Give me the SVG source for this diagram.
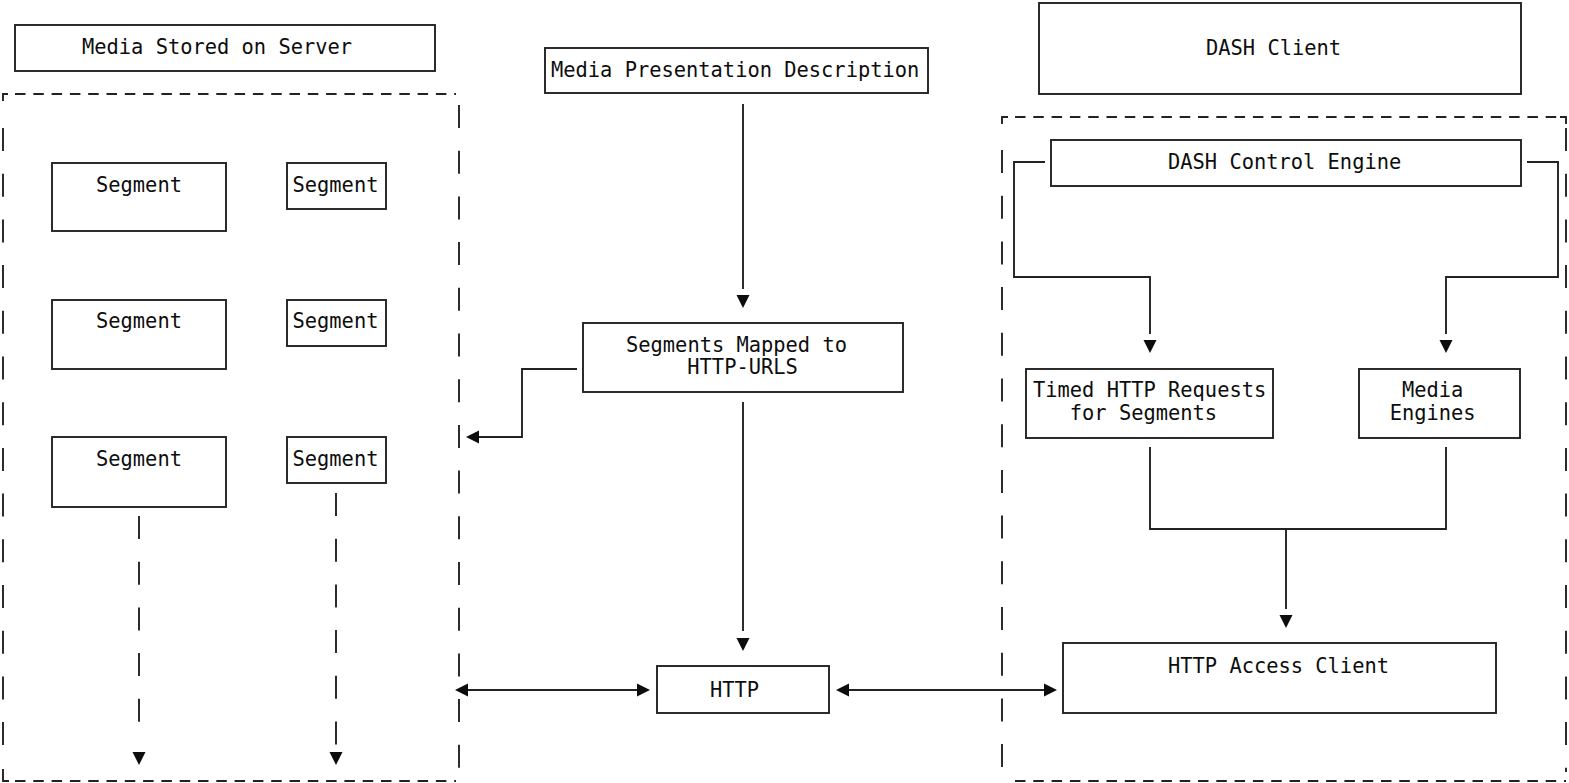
<svg xmlns="http://www.w3.org/2000/svg" xmlns:xlink="http://www.w3.org/1999/xlink" width="1569" height="783" viewBox="0 0 1569 783">
<style>
.box{fill:#fff;stroke:#222;stroke-width:1.9}
.t{font-family:"DejaVu Sans Mono","Liberation Mono",monospace;font-size:20.4px;fill:#0d0d0d}
.ln{fill:none;stroke:#222;stroke-width:1.9}
.dh{fill:none;stroke:#222;stroke-width:1.9;stroke-dasharray:10.5 7.8}
.dv{fill:none;stroke:#222;stroke-width:1.9;stroke-dasharray:23 22.7}
.ah{fill:#0d0d0d}
</style>
<defs>
<path id="aD" d="M-6.5,0 L6.5,0 L0,13 Z"/>
<path id="aL" d="M0,0 L13,-6.5 L13,6.5 Z"/>
<path id="aR" d="M0,0 L-13,-6.5 L-13,6.5 Z"/>
</defs>
<rect width="1569" height="783" fill="#fff"/>

<g id="server-container">
<path class="ln" d="M3,101 V94 H8"/>
<path class="dh" d="M15,94 H456"/>
<path class="dv" d="M3,128 V750"/>
<path class="ln" d="M3,769 V781 H9"/>
<path class="dh" d="M15,781 H456"/>
<path class="dv" d="M459,105 V772"/>
</g>

<g id="media-stored">
<rect class="box" x="15" y="25" width="420" height="46"/>
<text class="t" x="82" y="54">Media Stored on Server</text>
</g>

<g id="seg-1a"><rect class="box" x="52" y="163" width="174" height="68"/><text class="t" x="96" y="192">Segment</text></g>
<g id="seg-1b"><rect class="box" x="287" y="163" width="99" height="46"/><text class="t" x="292.5" y="192">Segment</text></g>
<g id="seg-2a"><rect class="box" x="52" y="300" width="174" height="69"/><text class="t" x="96" y="328">Segment</text></g>
<g id="seg-2b"><rect class="box" x="287" y="300" width="99" height="46"/><text class="t" x="292.5" y="328">Segment</text></g>
<g id="seg-3a"><rect class="box" x="52" y="437" width="174" height="70"/><text class="t" x="96" y="466">Segment</text></g>
<g id="seg-3b"><rect class="box" x="287" y="437" width="99" height="46"/><text class="t" x="292.5" y="466">Segment</text></g>

<g id="mpd">
<rect class="box" x="545" y="48" width="383" height="45"/>
<text class="t" x="551" y="77">Media Presentation Description</text>
</g>

<g id="seg-mapped">
<rect class="box" x="583" y="323" width="320" height="69"/>
<text class="t" x="626" y="352">Segments Mapped to</text>
<text class="t" x="687.3" y="374">HTTP-URLS</text>
</g>

<g id="http">
<rect class="box" x="657" y="666" width="172" height="47"/>
<text class="t" x="710" y="697">HTTP</text>
</g>

<g id="dash-client">
<rect class="box" x="1039" y="3" width="482" height="91"/>
<text class="t" x="1206" y="55">DASH Client</text>
</g>

<g id="client-container">
<path class="ln" d="M1002,124 V117 H1008"/>
<path class="dh" d="M1015,117 H1560"/>
<path class="ln" d="M1560,117 H1566 V124"/>
<path class="dv" d="M1002,150 V772"/>
<path class="dv" d="M1566,128 V772"/>
<path class="dh" d="M1015,781 H1566"/>
</g>

<g id="control-engine">
<rect class="box" x="1051" y="140" width="470" height="46"/>
<text class="t" x="1168" y="169">DASH Control Engine</text>
</g>

<g id="timed-requests">
<rect class="box" x="1026" y="369" width="247" height="69"/>
<text class="t" x="1033" y="397">Timed HTTP Requests</text>
<text class="t" x="1069.8" y="420">for Segments</text>
</g>

<g id="media-engines">
<rect class="box" x="1359" y="369" width="161" height="69"/>
<text class="t" x="1402" y="397">Media</text>
<text class="t" x="1389.7" y="420">Engines</text>
</g>

<g id="http-access-client">
<rect class="box" x="1063" y="643" width="433" height="70"/>
<text class="t" x="1168" y="673">HTTP Access Client</text>
</g>

<g id="connectors">
<path class="dv" d="M139,516 V724"/>
<use xlink:href="#aD" href="#aD" class="ah" x="139" y="752"/>
<path class="dv" d="M336,493 V748"/>
<use xlink:href="#aD" href="#aD" class="ah" x="336" y="752"/>

<path class="ln" d="M743,104 V289"/>
<use xlink:href="#aD" href="#aD" class="ah" x="743" y="295"/>

<path class="ln" d="M577,369 H522 V437 H478"/>
<use xlink:href="#aL" href="#aL" class="ah" x="466" y="437"/>

<path class="ln" d="M743,402 V631"/>
<use xlink:href="#aD" href="#aD" class="ah" x="743" y="638"/>

<path class="ln" d="M466,690 H639"/>
<use xlink:href="#aL" href="#aL" class="ah" x="455" y="690"/>
<use xlink:href="#aR" href="#aR" class="ah" x="650" y="690"/>

<path class="ln" d="M847,690 H1046"/>
<use xlink:href="#aL" href="#aL" class="ah" x="836" y="690"/>
<use xlink:href="#aR" href="#aR" class="ah" x="1057" y="690"/>

<path class="ln" d="M1045,162 H1014 V277 H1150 V334"/>
<use xlink:href="#aD" href="#aD" class="ah" x="1150" y="340"/>
<path class="ln" d="M1527,162 H1558 V277 H1446 V334"/>
<use xlink:href="#aD" href="#aD" class="ah" x="1446" y="340"/>

<path class="ln" d="M1150,447 V529 H1446 V447"/>
<path class="ln" d="M1286,529 V609"/>
<use xlink:href="#aD" href="#aD" class="ah" x="1286" y="615"/>
</g>
</svg>
